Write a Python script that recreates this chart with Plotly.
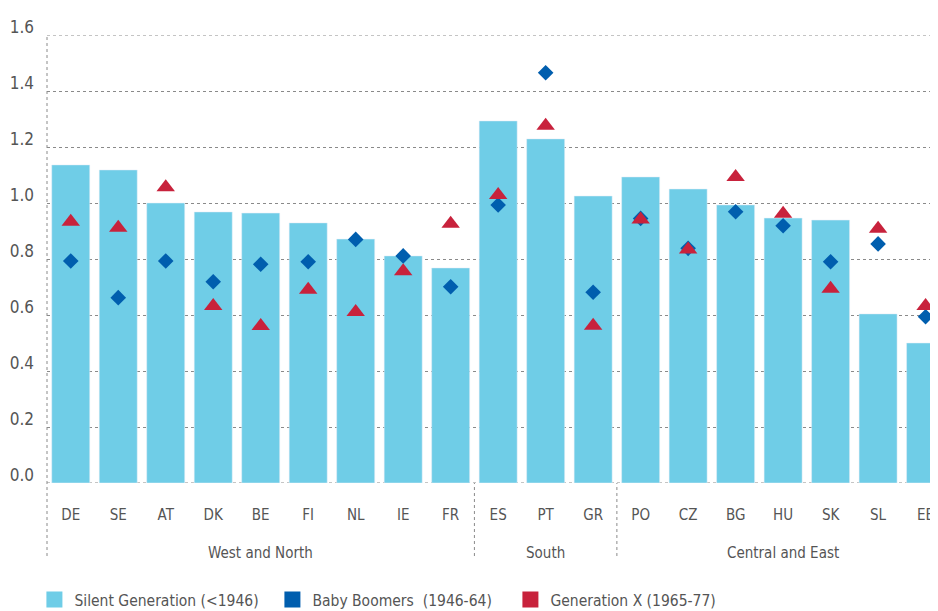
import plotly.graph_objects as go

# data
countries = ["DE", "SE", "AT", "DK", "BE", "FI", "NL", "IE", "FR",
             "ES", "PT", "GR",
             "PO", "CZ", "BG", "HU", "SK", "SL", "EE"]
silent = [1.136, 1.118, 1.00, 0.968, 0.964, 0.929, 0.871, 0.811, 0.768,
          1.293, 1.229, 1.025,
          1.093, 1.05, 0.993, 0.946, 0.939, 0.604, 0.50]
boomers = [0.793, 0.662, 0.793, 0.719, 0.781, 0.790, 0.870, 0.811, 0.701,
           0.993, 1.465, 0.681,
           0.945, 0.838, 0.969, 0.919, 0.790, 0.854, 0.594]
genx = [0.933, 0.912, 1.056, 0.632, 0.561, 0.690, 0.611, 0.756, 0.926,
        1.029, 1.276, 0.562,
        0.941, 0.834, 1.093, 0.962, 0.694, 0.908, 0.632]
groups = ["West and North", "South", "Central and East"]
group_mid = [4, 10, 15]
dividers = [8.5, 11.5]
yticks = [0, 0.2, 0.4, 0.6, 0.8, 1.0, 1.2, 1.4, 1.6]

c_silent = "#6fcde7"
c_boom = "#005eae"
c_genx = "#c8223c"
txt = "#555555"
grid = "#8a8a8a"
font = "Liberation Sans Narrow, Arial Narrow, DejaVu Sans Condensed, Roboto Condensed, Roboto, sans-serif"

x = list(range(len(countries)))

fig = go.Figure()
fig.add_trace(go.Bar(x=x, y=silent, marker_color=c_silent, width=0.8,
                     showlegend=False))
fig.add_trace(go.Scatter(x=x, y=boomers, mode="markers", showlegend=False,
                         marker=dict(symbol="diamond", size=12, color=c_boom)))
fig.add_trace(go.Scatter(x=x, y=genx, mode="markers", showlegend=False,
                         marker=dict(symbol="triangle-up", size=16, color=c_genx)))

# legend entries as squares
for name, col in [("Silent Generation (<1946)", c_silent),
                  ("Baby Boomers  (1946-64)", c_boom),
                  ("Generation X (1965-77)", c_genx)]:
    fig.add_trace(go.Scatter(x=[None], y=[None], mode="markers", name=name,
                             marker=dict(symbol="square", size=16, color=col)))

for g, m in zip(groups, group_mid):
    fig.add_annotation(x=m, y=-0.156, xref="x", yref="paper", text=g,
                       showarrow=False,
                       font=dict(size=15, color=txt, family=font),
                       yanchor="middle")

line = dict(color=grid, width=1, dash="dot")
fig.add_shape(type="line", xref="paper", yref="paper", x0=0, x1=0, y0=-0.163, y1=1, line=line)
for d in dividers:
    fig.add_shape(type="line", xref="x", yref="paper", x0=d, x1=d, y0=-0.163, y1=0, line=line)
for yv in [0, 1.6]:
    fig.add_shape(type="line", xref="paper", yref="y", x0=0, x1=1, y0=yv, y1=yv,
                  line=line, layer="below")

fig.update_layout(
    width=938, height=611,
    margin=dict(l=39, r=0, t=27, b=136, autoexpand=False),
    plot_bgcolor="white", paper_bgcolor="white",
    font=dict(family=font, color=txt),
    legend=dict(orientation="h", x=-0.014, xanchor="left", y=-0.261, yanchor="middle",
                entrywidth=193, entrywidthmode="pixels",
                font=dict(size=15.5, color=txt, family=font)),
)
fig.update_xaxes(range=[-0.5, 18.43], tickvals=x, ticktext=countries,
                 ticks="outside", ticklen=18, tickcolor="rgba(0,0,0,0)",
                 tickfont=dict(size=15, color=txt, family=font),
                 showgrid=False, zeroline=False, showline=False, automargin=False)
fig.update_yaxes(range=[0, 1.6], tickvals=yticks, tickformat=".1f",
                 tickfont=dict(size=17, color=txt, family=font),
                 showgrid=True, gridcolor=grid, griddash="dot", gridwidth=1,
                 zeroline=False, showline=False, automargin=False,
                 ticklabelstandoff=12, ticklabelshift=-8)

fig.write_html("out.html")
